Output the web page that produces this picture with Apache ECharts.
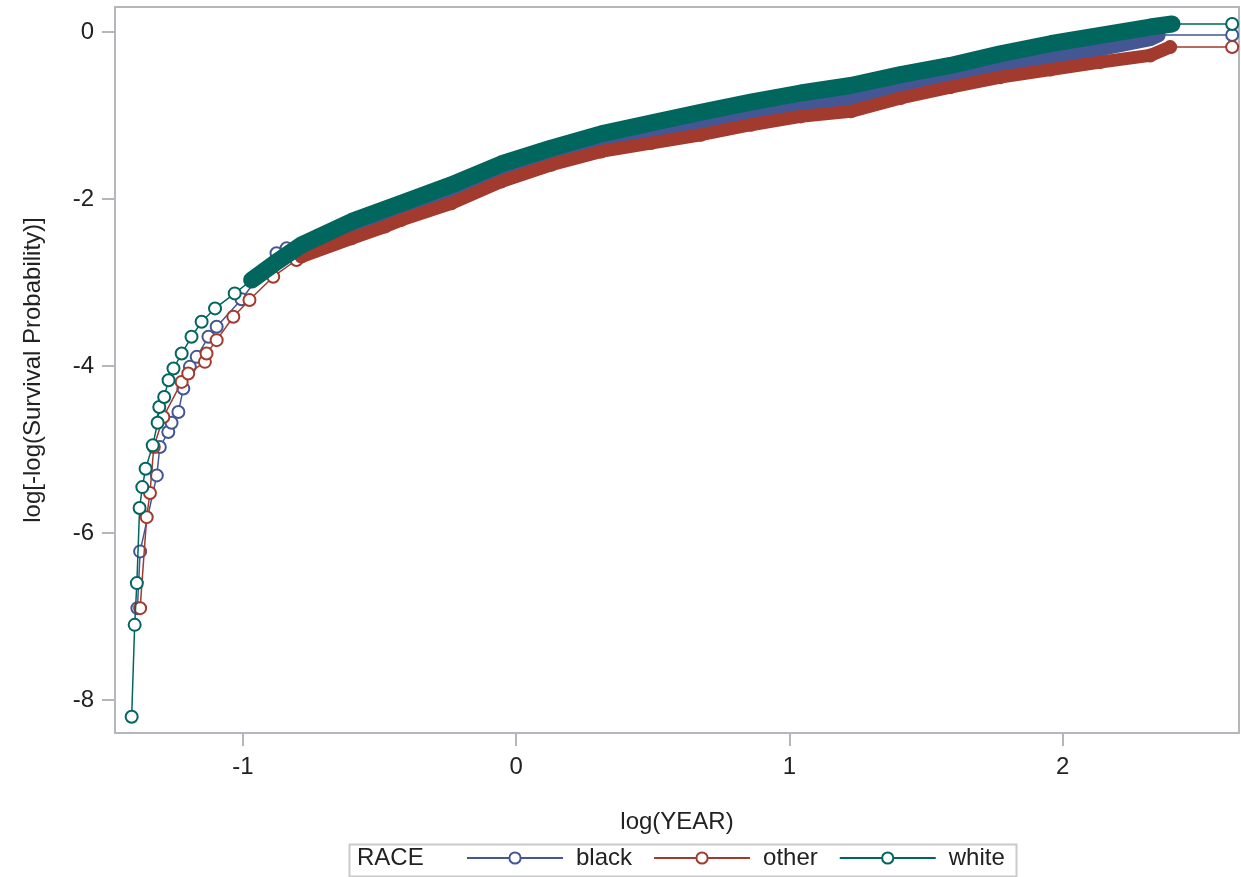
<!DOCTYPE html>
<html>
<head>
<meta charset="utf-8">
<script src="https://cdn.jsdelivr.net/npm/echarts@6/dist/echarts.min.js"></script>
<style>
html,body{margin:0;padding:0;background:#fff;}
#c{width:1241px;height:877px;}
</style>
</head>
<body>
<div id="c"></div>
<script>
// log(YEAR), log[-log(Survival Probability)] pairs
const black = [
  [-1.386,-6.90],[-1.376,-6.22],[-1.315,-5.31],[-1.304,-4.97],[-1.273,-4.79],[-1.261,-4.68],
  [-1.236,-4.55],[-1.218,-4.27],[-1.194,-4.01],[-1.169,-3.89],[-1.126,-3.65],[-1.096,-3.53],
  [-1.005,-3.20],[-0.877,-2.65],[-0.840,-2.59],
  [-0.786,-2.58],[-0.603,-2.36],[-0.420,-2.15],[-0.237,-1.93],[-0.055,-1.70],[0.128,-1.52],
  [0.311,-1.41],[0.493,-1.27],[0.676,-1.13],[0.859,-1.00],[1.041,-0.87],[1.224,-0.83],
  [1.407,-0.65],[1.589,-0.53],[1.772,-0.40],[1.955,-0.29],[2.137,-0.20],[2.320,-0.08],
  [2.349,-0.036],[2.620,-0.036]
];
const other = [
  [-1.376,-6.90],[-1.352,-5.81],[-1.340,-5.52],[-1.326,-4.97],[-1.291,-4.61],[-1.224,-4.19],
  [-1.200,-4.09],[-1.139,-3.95],[-1.133,-3.85],[-1.096,-3.69],[-1.035,-3.41],[-0.976,-3.21],
  [-0.889,-2.93],[-0.804,-2.73],
  [-0.786,-2.69],[-0.603,-2.47],[-0.480,-2.33],[-0.420,-2.25],[-0.237,-2.05],[-0.055,-1.79],
  [0.128,-1.59],[0.311,-1.43],[0.493,-1.33],[0.676,-1.23],[0.859,-1.11],[1.041,-1.01],
  [1.224,-0.95],[1.407,-0.79],[1.589,-0.66],[1.772,-0.54],[1.955,-0.45],[2.137,-0.36],
  [2.320,-0.28],[2.393,-0.18],[2.620,-0.18]
];
const white = [
  [-1.407,-8.20],[-1.396,-7.10],[-1.388,-6.60],[-1.378,-5.70],[-1.368,-5.45],[-1.356,-5.23],
  [-1.330,-4.95],[-1.312,-4.68],[-1.306,-4.49],[-1.288,-4.37],[-1.272,-4.17],[-1.254,-4.03],
  [-1.224,-3.85],[-1.188,-3.65],[-1.151,-3.47],[-1.102,-3.31],[-1.030,-3.13],
  [-0.968,-2.97],[-0.884,-2.77],[-0.786,-2.55],[-0.603,-2.27],[-0.420,-2.05],[-0.237,-1.83],
  [-0.055,-1.58],[0.128,-1.39],[0.311,-1.22],[0.493,-1.09],[0.676,-0.96],[0.859,-0.84],
  [1.041,-0.73],[1.224,-0.64],[1.407,-0.51],[1.589,-0.40],[1.772,-0.26],[1.955,-0.14],
  [2.137,-0.04],[2.320,0.06],[2.400,0.096],[2.620,0.096]
];
const raceNames = ['black','other','white'];
const raceColors = ['#445694','#A23A2E','#01665E'];
const bandStart = [-0.79,-0.79,-0.97];
const xTicks = [-1,0,1,2];
const yTicks = [0,-2,-4,-6,-8];

const FONT = 'Liberation Sans, Arial, sans-serif';
const TXT = '#222';
const FRAME = '#b4b8bc';
const bandWidths = [15, 13, 17];
const all = [black, other, white];

const series = [];
all.forEach((d, i) => {
  series.push({
    name: raceNames[i], type: 'line', data: d, color: raceColors[i], z: 2 + i * 0.1,
    symbol: 'emptyCircle', symbolSize: 12, showAllSymbol: true,
    lineStyle: {width: 1.5, color: raceColors[i]},
    itemStyle: {color: raceColors[i], borderWidth: 1.5, borderColor: raceColors[i]},
    emphasis: {disabled: true}, animation: false
  });
  // dense region: markers overlap into a solid band
  const dense = d.slice(0, d.length - 1).filter(p => p[0] >= bandStart[i]);
  series.push({
    name: raceNames[i] + '_band', type: 'line', data: dense, showSymbol: false, z: 5 + i,
    lineStyle: {width: bandWidths[i], color: raceColors[i], cap: 'round', join: 'round'},
    emphasis: {disabled: true}, animation: false, silent: true
  });
});

const chart = echarts.init(document.getElementById('c'), null, {renderer: 'canvas'});
chart.setOption({
  animation: false,
  backgroundColor: '#fff',
  textStyle: {fontFamily: FONT},
  grid: {left: 115, right: 2, top: 7, bottom: 144, show: true, borderColor: FRAME, borderWidth: 2},
  xAxis: {
    type: 'value', min: -1.468, max: 2.645,
    name: 'log(YEAR)', nameLocation: 'middle', nameGap: 77,
    nameTextStyle: {fontSize: 24, color: TXT, fontFamily: FONT},
    axisLine: {show: true, onZero: false, lineStyle: {color: FRAME, width: 2}},
    axisTick: {show: true, length: 13, lineStyle: {color: FRAME, width: 2}, customValues: xTicks},
    axisLabel: {fontSize: 24, color: TXT, margin: 22, fontFamily: FONT, customValues: xTicks},
    splitLine: {show: false}
  },
  yAxis: {
    type: 'value', min: -8.395, max: 0.30,
    name: 'log[-log(Survival Probability)]', nameLocation: 'middle', nameGap: 70,
    nameTextStyle: {fontSize: 24, color: TXT, fontFamily: FONT},
    axisLine: {show: true, onZero: false, lineStyle: {color: FRAME, width: 2}},
    axisTick: {show: true, length: 13, lineStyle: {color: FRAME, width: 2}, customValues: yTicks},
    axisLabel: {fontSize: 24, color: TXT, margin: 21, fontFamily: FONT, customValues: yTicks},
    splitLine: {show: false}
  },
  legend: {
    data: raceNames, left: 466, top: 846, padding: 0,
    itemWidth: 96, itemHeight: 14, itemGap: 21,
    textStyle: {fontSize: 24, color: TXT, fontFamily: FONT, padding: [0,0,0,8]},
    selectedMode: false
  },
  graphic: [
    {type: 'rect', left: 347, top: 842, shape: {width: 667, height: 32},
     style: {fill: 'none', stroke: '#c8cacc', lineWidth: 2}, z: 100},
    {type: 'text', left: 357, top: 846, style: {text: 'RACE', fontSize: 24, fill: TXT, fontFamily: FONT}, z: 100}
  ],
  series: series
});
</script>
</body>
</html>
